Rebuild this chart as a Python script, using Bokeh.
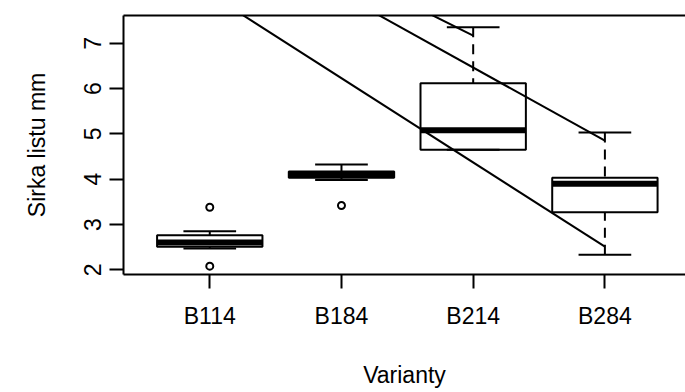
from bokeh.plotting import figure
from bokeh.models import FixedTicker, LinearAxis, Range1d
from bokeh.embed import file_html
from bokeh.resources import INLINE

# ---- data ----
categories = ["B114", "B184", "B214", "B284"]
positions = [1, 2, 3, 4]
lower_whisker = [2.47, 3.98, 4.65, 2.33]
q1 = [2.51, 4.03, 4.65, 3.27]
median = [2.60, 4.09, 5.08, 3.90]
q3 = [2.76, 4.17, 6.12, 4.03]
upper_whisker = [2.85, 4.325, 7.355, 5.03]
outlier_x = [1, 1, 2]
outlier_y = [3.38, 2.08, 3.42]
line_x0 = [1, 2, 2]
line_y0 = [8.09, 8.08, 8.62]
line_x1 = [4, 4, 3]
line_y1 = [2.51, 4.85, 7.17]
y_ticks = [2, 3, 4, 5, 6, 7]

FONT = "Liberation Sans"
FS = "23px"
BOX_HALF = 0.4
CAP_HALF = 0.2

p = figure(width=685, height=392,
           x_range=Range1d(0.345, 4.612), y_range=Range1d(1.896, 7.614),
           output_backend="svg", toolbar_location=None,
           min_border_left=123, min_border_right=0,
           min_border_top=15, min_border_bottom=118,
           x_axis_type=None, y_axis_type=None)
p.outline_line_color = None
p.background_fill_color = "white"
p.border_fill_color = "white"

# axes
xax = LinearAxis(ticker=FixedTicker(ticks=positions),
                 major_label_overrides={pos: c for pos, c in zip(positions, categories)},
                 axis_label="Varianty")
yax = LinearAxis(ticker=FixedTicker(ticks=y_ticks), axis_label="Sirka listu mm",
                 major_label_orientation="vertical")
for ax in (xax, yax):
    ax.axis_line_width = 2
    ax.axis_line_color = "black"
    ax.major_tick_line_width = 2
    ax.major_tick_line_color = "black"
    ax.major_tick_out = 14
    ax.major_tick_in = 0
    ax.minor_tick_out = 0
    ax.minor_tick_in = 0
    ax.major_label_text_font = FONT
    ax.major_label_text_font_size = FS
    ax.major_label_text_color = "black"
    ax.axis_label_text_font = FONT
    ax.axis_label_text_font_size = FS
    ax.axis_label_text_font_style = "normal"
    ax.axis_label_text_color = "black"
xax.major_label_standoff = 14
xax.axis_label_standoff = 30
yax.major_label_standoff = 8
yax.axis_label_standoff = 32
p.add_layout(xax, "below")
p.add_layout(yax, "left")

top = LinearAxis(ticker=FixedTicker(ticks=[]), major_tick_out=0, major_tick_in=0,
                 minor_tick_out=0, minor_tick_in=0, major_label_text_font_size="0px",
                 major_label_standoff=0, axis_line_width=2, axis_line_color="black")
p.add_layout(top, "above")

# boxes
p.quad(left=[x - BOX_HALF for x in positions], right=[x + BOX_HALF for x in positions],
       bottom=q1, top=q3, fill_color=None, line_color="black", line_width=2)
# whiskers (drawn from whisker end toward the box, as R does)
p.segment(x0=positions, y0=upper_whisker, x1=positions, y1=q3,
          line_color="black", line_width=2, line_dash="10 7")
p.segment(x0=positions, y0=lower_whisker, x1=positions, y1=q1,
          line_color="black", line_width=2, line_dash="10 7")
# caps
p.segment(x0=[x - CAP_HALF for x in positions], y0=upper_whisker,
          x1=[x + CAP_HALF for x in positions], y1=upper_whisker,
          line_color="black", line_width=2)
p.segment(x0=[x - CAP_HALF for x in positions], y0=lower_whisker,
          x1=[x + CAP_HALF for x in positions], y1=lower_whisker,
          line_color="black", line_width=2)
# medians
p.segment(x0=[x - BOX_HALF for x in positions], y0=median,
          x1=[x + BOX_HALF for x in positions], y1=median,
          line_color="black", line_width=6)
# outliers
p.scatter(outlier_x, outlier_y, marker="circle", size=7, fill_color=None,
          line_color="black", line_width=2)
# diagonal lines
p.segment(x0=line_x0, y0=line_y0, x1=line_x1, y1=line_y1,
          line_color="black", line_width=2)

open("out.html", "w").write(file_html(p, INLINE))
